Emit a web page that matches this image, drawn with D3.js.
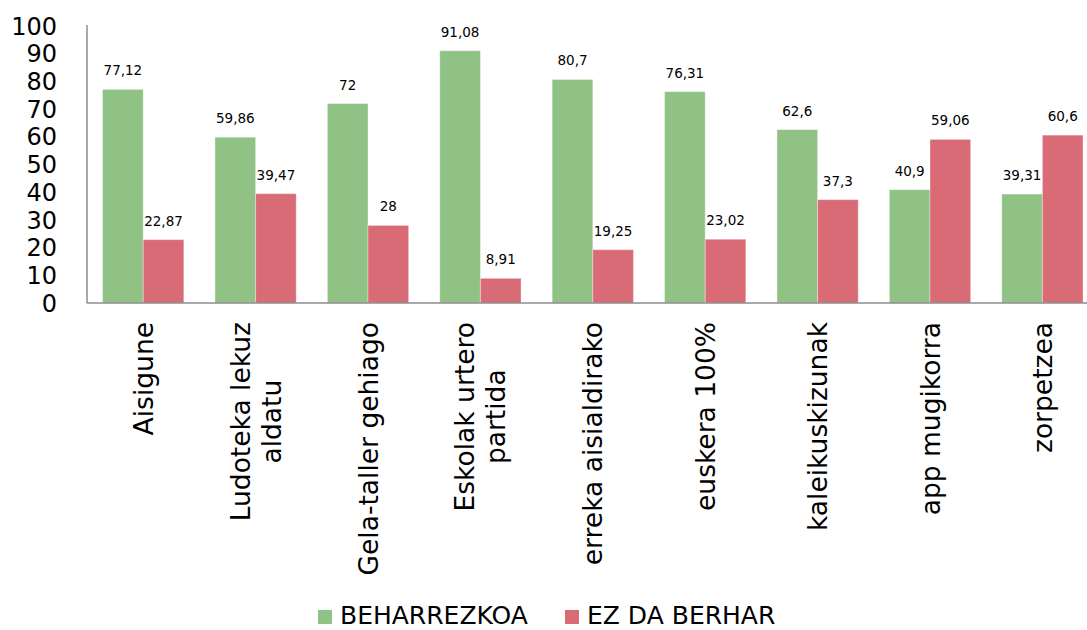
<!DOCTYPE html>
<meta charset="utf-8">
<style>
    body { margin: 0; background: #fff; }
    svg text { font-family: "DejaVu Sans", Verdana, sans-serif; fill: #000; }
    .val { font-size: 13.5px; text-anchor: middle; }
    .ytick { font-size: 24px; text-anchor: end; }
    .cat { font-size: 26.5px; text-anchor: middle; }
    .leg { font-size: 25px; }
</style>
<svg width="1087" height="630"></svg>

<script src="https://d3js.org/d3.v7.min.js"></script>
<script>
    var categories = ["Aisigune", "Ludoteka lekuz\naldatu", "Gela-taller gehiago", "Eskolak urtero\npartida",
        "erreka aisialdirako", "euskera 100%", "kaleikuskizunak", "app mugikorra", "zorpetzea"];
    var series = ["BEHARREZKOA", "EZ DA BERHAR"];
    var beharrezkoa = [77.12, 59.86, 72, 91.08, 80.7, 76.31, 62.6, 40.9, 39.31];
    var ezDaBerhar = [22.87, 39.47, 28, 8.91, 19.25, 23.02, 37.3, 59.06, 60.6];
    var yTicks = [0, 10, 20, 30, 40, 50, 60, 70, 80, 90, 100];
    var colors = ["#8fc284", "#d96b77"];

    var svg = d3.select("svg"),
        plotL = 87, plotR = 1098.6, plotT = 26, plotB = 303;

    var x = d3.scaleBand().domain(d3.range(categories.length))
        .range([plotL, plotR]).paddingInner(0.277).paddingOuter(0.1385);
    var x1 = d3.scaleBand().domain([0, 1]).range([0, x.bandwidth()]);
    var y = d3.scaleLinear().domain([0, 100]).range([plotB, plotT]);

    var rows = categories.map(function(c, i) {
        return {cat: c, i: i, vals: [beharrezkoa[i], ezDaBerhar[i]]};
    });

    // y tick labels (no tick marks)
    svg.selectAll(".ytick").data(yTicks).enter().append("text")
        .attr("class", "ytick")
        .attr("x", 57)
        .attr("y", function(d) { return y(d); })
        .attr("dy", "0.36em")
        .text(function(d) { return d; });

    var g = svg.selectAll(".grp").data(rows).enter().append("g")
        .attr("class", "grp")
        .attr("transform", function(d) { return "translate(" + x(d.i) + ",0)"; });

    g.selectAll("rect").data(function(d) { return d.vals; }).enter().append("rect")
        .attr("x", function(d, j) { return x1(j); })
        .attr("y", function(d) { return y(d); })
        .attr("width", x1.bandwidth())
        .attr("height", function(d) { return plotB - y(d); })
        .attr("fill", function(d, j) { return colors[j]; })
        .attr("stroke", "#fff").attr("stroke-opacity", 0.35).attr("stroke-width", 1);

    g.selectAll(".val").data(function(d) { return d.vals; }).enter().append("text")
        .attr("class", "val")
        .attr("x", function(d, j) { return x1(j) + x1.bandwidth() / 2; })
        .attr("y", function(d) { return y(d) - 14; })
        .text(function(d) { return String(d).replace(".", ","); });

    // axes lines
    svg.append("line").attr("x1", plotL).attr("x2", plotL).attr("y1", 25).attr("y2", plotB)
        .attr("stroke", "#8c8c8c").attr("stroke-width", 1.5);
    svg.append("line").attr("x1", plotL).attr("x2", 1087).attr("y1", plotB).attr("y2", plotB)
        .attr("stroke", "#8c8c8c").attr("stroke-width", 1.5);

    // rotated category labels, block top-aligned at y=322, lines centred
    var lineH = 31;
    rows.forEach(function(d) {
        var lines = d.cat.split("\n");
        var cx = x(d.i) + x.bandwidth() / 2;
        var t = svg.append("g").attr("transform", "translate(" + cx + ",322) rotate(-90)");
        var texts = lines.map(function(l, k) {
            return t.append("text").attr("class", "cat")
                .attr("y", (k - (lines.length - 1) / 2) * lineH)
                .attr("dy", "0.36em")
                .text(l);
        });
        var maxW = d3.max(texts, function(s) { return s.node().getComputedTextLength(); });
        texts.forEach(function(s) { s.attr("x", -maxW / 2); });
    });

    // legend
    var legX = [318, 565];
    series.forEach(function(s, j) {
        svg.append("rect").attr("x", legX[j]).attr("y", 610).attr("width", 14).attr("height", 14)
            .attr("fill", colors[j]);
        svg.append("text").attr("class", "leg").attr("x", legX[j] + 22).attr("y", 624).text(s);
    });
</script>
